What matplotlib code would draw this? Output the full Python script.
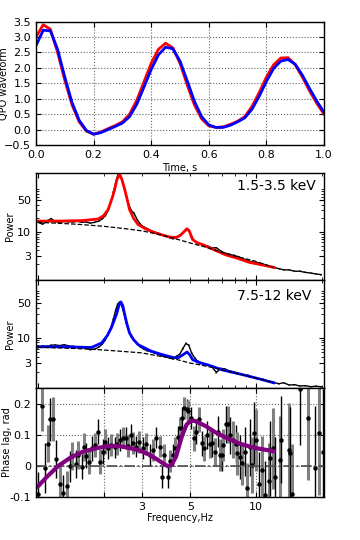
import matplotlib
matplotlib.use("Agg")
import matplotlib.pyplot as plt
import numpy as np
from matplotlib.ticker import FixedLocator, NullFormatter, FixedFormatter, LogLocator

# ---------------- data ----------------
# Panel 1: QPO waveform
t = [0.0, 0.025, 0.05, 0.075, 0.1, 0.125, 0.15, 0.175, 0.2, 0.225, 0.25, 0.275, 0.3,
     0.325, 0.35, 0.375, 0.4, 0.425, 0.45, 0.475, 0.5, 0.525, 0.55, 0.575, 0.6, 0.625,
     0.65, 0.675, 0.7, 0.725, 0.75, 0.775, 0.8, 0.825, 0.85, 0.875, 0.9, 0.925, 0.95,
     0.975, 1.0]
wave_soft = [3.0, 3.4, 3.25, 2.5, 1.6, 0.8, 0.25, -0.05, -0.15, -0.08, 0.03, 0.13, 0.25,
             0.5, 0.95, 1.55, 2.15, 2.6, 2.8, 2.65, 2.15, 1.45, 0.8, 0.35, 0.12, 0.07,
             0.09, 0.17, 0.27, 0.42, 0.75, 1.2, 1.7, 2.1, 2.32, 2.33, 2.1, 1.7, 1.25,
             0.85, 0.5]
wave_hard = [2.72, 3.22, 3.2, 2.6, 1.7, 0.88, 0.3, -0.03, -0.15, -0.1, 0.0, 0.1, 0.21,
             0.42, 0.82, 1.38, 1.95, 2.42, 2.67, 2.62, 2.22, 1.58, 0.92, 0.42, 0.15, 0.07,
             0.07, 0.14, 0.25, 0.38, 0.66, 1.08, 1.56, 1.98, 2.22, 2.27, 2.12, 1.76, 1.33,
             0.92, 0.56]

# Power spectra (frequency grid of the data)
freq = [1.00, 1.05, 1.10, 1.15, 1.20, 1.26, 1.32, 1.38, 1.45, 1.52, 1.59, 1.66, 1.74, 1.82,
        1.90, 1.97, 2.04, 2.10, 2.16, 2.22, 2.27, 2.32, 2.37, 2.42, 2.48, 2.54, 2.61, 2.68,
        2.76, 2.85, 2.95, 3.06, 3.18, 3.30, 3.43, 3.57, 3.72, 3.87, 4.02, 4.17, 4.32, 4.47,
        4.62, 4.77, 4.92, 5.07, 5.23, 5.40, 5.60, 5.82, 6.05, 6.30, 6.58, 6.88, 7.20, 7.55,
        7.92, 8.32, 8.75, 9.20, 9.70, 10.2, 10.8, 11.4, 12.0, 12.7, 13.4, 14.2, 15.0, 15.9,
        16.8, 17.8, 18.8, 19.9]
pow_soft = [16.5, 15.0, 17.5, 20.0, 17.0, 16.5, 17.2, 17.0, 16.8, 17.3, 16.5, 16.8, 15.8, 16.5,
            17.5, 19.5, 23.0, 30.0, 45.0, 75.0, 120.0, 175.0, 200.0, 150.0, 95.0, 62.0, 40.0, 30.0,
            26.0, 19.0, 15.0, 13.0, 12.0, 10.8, 10.0, 9.5, 8.7, 8.2, 7.6, 7.2, 7.8, 8.5,
            9.5, 11.5, 11.0, 8.0, 6.3, 5.9, 5.5, 5.0, 4.9, 4.5, 4.6, 3.9, 3.5, 3.3,
            3.1, 2.9, 2.6, 2.4, 2.2, 2.15, 2.0, 1.85, 1.7, 1.6, 1.5, 1.5, 1.4, 1.4,
            1.32, 1.28, 1.22, 1.18]
pow_hard = [6.3, 6.8, 6.6, 7.0, 7.1, 6.9, 7.2, 6.8, 6.6, 6.5, 6.3, 6.2, 5.7, 5.8,
            6.4, 7.3, 9.0, 12.0, 16.0, 24.0, 36.0, 48.0, 54.0, 45.0, 32.0, 20.0, 13.5, 10.5,
            9.0, 7.8, 6.5, 5.8, 5.4, 5.2, 4.8, 4.6, 4.2, 4.1, 3.8, 3.7, 4.2, 4.6,
            6.0, 7.6, 7.0, 4.8, 3.9, 3.3, 3.1, 2.9, 2.75, 2.5, 1.95, 2.35, 2.3, 2.1,
            2.0, 1.85, 1.75, 1.7, 1.55, 1.45, 1.4, 1.3, 1.22, 1.15, 1.2, 1.08, 1.1, 1.03,
            1.05, 1.0, 1.02, 1.0]
pow_err_frac = 0.05

# Model curves
model_soft_f = [1.0, 1.3, 1.6, 1.89, 2.0, 2.1, 2.2, 2.25, 2.3, 2.37, 2.43, 2.5, 2.56, 2.63,
                2.75, 2.88, 3.1, 3.31, 3.55, 3.8, 4.05, 4.3, 4.5, 4.7, 4.83, 4.95, 5.12,
                5.4, 5.69, 6.3, 7.25, 8.2, 9.28, 10.5, 12.07]
model_soft_p = [17.5, 17.6, 18.0, 19.5, 23.0, 31.5, 60.0, 87.0, 140.0, 186.0, 140.0, 87.0, 55.0,
                31.5, 20.0, 14.7, 12.0, 10.5, 9.3, 8.45, 7.8, 7.7, 8.5, 10.5, 11.9, 10.5, 6.9,
                5.8, 5.36, 4.3, 3.2, 2.7, 2.2, 1.95, 1.7]
cont_soft_f = [1.0, 1.5, 2.0, 2.5, 3.0, 3.5, 4.0, 4.5, 5.0, 6.0, 7.0, 8.0, 10.0, 12.0]
cont_soft_p = [16.5, 15.0, 13.5, 12.0, 10.7, 9.2, 7.8, 6.7, 5.8, 4.6, 3.6, 3.0, 2.3, 1.7]

model_hard_f = [1.0, 1.33, 1.76, 1.96, 2.08, 2.17, 2.29, 2.35, 2.4, 2.45, 2.5, 2.56, 2.63,
                2.75, 2.88, 3.1, 3.31, 3.6, 3.94, 4.2, 4.4, 4.6, 4.83, 4.98, 5.12, 5.5,
                6.1, 7.0, 8.66, 10.3, 12.07]
model_hard_p = [6.5, 6.5, 6.3, 7.8, 11.0, 15.8, 29.5, 45.0, 53.6, 45.0, 29.5, 19.0, 12.5,
                9.0, 7.2, 6.1, 5.3, 4.7, 4.2, 3.9, 3.9, 4.4, 5.1, 4.4, 3.55, 3.1,
                2.73, 2.2, 1.76, 1.45, 1.2]
cont_hard_f = [1.0, 1.5, 1.89, 2.5, 2.98, 3.5, 4.0, 4.37, 4.95, 5.5, 6.5, 8.0, 10.0, 12.0]
cont_hard_p = [6.4, 6.0, 5.7, 5.2, 4.9, 4.3, 3.9, 3.55, 3.05, 2.8, 2.4, 1.9, 1.5, 1.2]

# Phase lag
lag_f = [1.0, 1.04, 1.08, 1.11, 1.14, 1.17, 1.21, 1.26, 1.30, 1.36, 1.40, 1.44, 1.49, 1.53,
         1.59, 1.63, 1.67, 1.71, 1.77, 1.82, 1.88, 1.92, 1.98, 2.04, 2.10, 2.17, 2.25, 2.31,
         2.37, 2.45, 2.53, 2.60, 2.66, 2.73, 2.83, 2.92, 3.03, 3.14, 3.25, 3.36, 3.48, 3.61,
         3.70, 3.80, 3.94, 4.05, 4.15, 4.27, 4.37, 4.49, 4.58, 4.69, 4.81, 4.90, 5.03, 5.20,
         5.33, 5.48, 5.63, 5.79, 5.94, 6.14, 6.31, 6.49, 6.66, 6.83, 7.0, 7.09, 7.25, 7.42,
         7.63, 7.86, 8.06, 8.21, 8.41, 8.67, 8.87, 9.12, 9.38, 9.6, 9.76, 10.0, 10.28, 10.66,
         10.95, 11.45, 11.65, 11.96, 12.2, 12.86, 13.0, 14.1, 14.3, 14.6, 15.9, 17.4, 18.7,
         19.4, 20.2]
lag_v = [-0.09, 0.192, -0.008, 0.071, 0.149, 0.151, 0.022, -0.057, -0.088, -0.065, -0.001,
         0.032, 0.006, 0.035, -0.003, 0.062, 0.032, 0.013, 0.057, 0.067, 0.11, 0.013, 0.046,
         0.078, 0.057, 0.067, 0.059, 0.07, 0.084, 0.091, 0.089, 0.065, 0.1, 0.073, 0.062,
         0.076, 0.057, 0.07, 0.035, 0.051, 0.091, 0.062, -0.036, 0.035, -0.036, 0.015, 0.035,
         0.057, 0.094, 0.122, 0.154, 0.187, 0.181, 0.176, 0.154, 0.089, 0.11, 0.149, 0.073,
         0.057, 0.1, 0.07, 0.073, 0.046, 0.11, 0.035, 0.035, 0.067, 0.133, 0.133, 0.098,
         0.084, 0.07, 0.04, 0.029, 0.008, 0.046, -0.072, 0.059, 0.002, 0.105, 0.084, -0.057,
         -0.014, -0.095, -0.047, 0.024, 0.057, -0.036, 0.019, 0.084, 0.051, 0.04, -0.09,
         0.247, 0.154, -0.008, 0.105, 0.046]
lag_e = [0.07, 0.08, 0.08, 0.06, 0.07, 0.07, 0.06, 0.06, 0.06, 0.05, 0.05, 0.045, 0.045, 0.045,
         0.04, 0.045, 0.04, 0.04, 0.04, 0.04, 0.04, 0.04, 0.04, 0.04, 0.035, 0.035, 0.035, 0.035,
         0.035, 0.035, 0.035, 0.035, 0.035, 0.035, 0.035, 0.035, 0.035, 0.035, 0.035, 0.035,
         0.035, 0.035, 0.035, 0.035, 0.035, 0.035, 0.035, 0.035, 0.035, 0.035, 0.035, 0.035,
         0.035, 0.035, 0.035, 0.04, 0.04, 0.04, 0.04, 0.04, 0.045, 0.045, 0.045, 0.045, 0.05,
         0.05, 0.05, 0.05, 0.06, 0.06, 0.06, 0.06, 0.06, 0.07, 0.07, 0.07, 0.08, 0.08, 0.09,
         0.09, 0.1, 0.1, 0.1, 0.11, 0.11, 0.12, 0.12, 0.13, 0.13, 0.14, 0.14, 0.15, 0.15,
         0.16, 0.18, 0.2, 0.2, 0.2, 0.2]
lag_model_f = [1.0, 1.1, 1.24, 1.4, 1.6, 1.89, 2.1, 2.33, 2.6, 2.9, 3.2, 3.5, 3.75, 3.94,
               4.1, 4.3, 4.45, 4.6, 4.8, 5.0, 5.2, 5.5, 5.9, 6.5, 7.25, 8.5, 10.0, 12.07]
lag_model_v = [-0.066, -0.035, 0.0, 0.025, 0.045, 0.058, 0.063, 0.064, 0.058, 0.05, 0.038,
               0.022, 0.008, -0.001, 0.003, 0.03, 0.067, 0.1, 0.132, 0.144, 0.145, 0.138,
               0.127, 0.108, 0.091, 0.07, 0.057, 0.047]

# ---------------- figure ----------------
plt.rcParams['font.family'] = 'DejaVu Sans'
fig = plt.figure(figsize=(3.6, 5.4), dpi=100)

def style(ax):
    ax.tick_params(which='both', direction='in', top=True, right=True, labelsize=8)
    for s in ax.spines.values():
        s.set_linewidth(1.0)

# Panel 1
ax1 = fig.add_axes([0.1, 0.7315, 0.8, 0.2285])
ax1.plot(t, wave_soft, color='#ff0000', lw=2)
ax1.plot(t, wave_hard, color='#0000ff', lw=2)
ax1.set_xlim(0, 1)
ax1.set_ylim(-0.5, 3.5)
ax1.set_xticks([0, 0.2, 0.4, 0.6, 0.8, 1.0])
ax1.set_yticks([-0.5, 0, 0.5, 1.0, 1.5, 2.0, 2.5, 3.0, 3.5])
ax1.grid(True, linestyle=':', color='0.4', lw=0.8)
style(ax1)
ax1.set_xlabel('Time, s', fontsize=7, labelpad=2)
ax1.set_ylabel('QPO waveform', fontsize=7)
ax1.yaxis.set_label_coords(-0.094, 0.5)

fmin, fmax = 0.98, 20.5

def power_panel(rect, p, mf, mp, cf, cp, color, ylim, label, label_y):
    ax = fig.add_axes(rect)
    ax.set_xscale('log'); ax.set_yscale('log')
    perr = [v * pow_err_frac for v in p]
    ax.errorbar(freq, p, yerr=perr, fmt='none', ecolor='0.55', elinewidth=1.2)
    ax.plot(freq, p, color='black', lw=1)
    ax.plot(mf, mp, color=color, lw=2)
    ax.plot(cf, cp, color='black', lw=0.9, ls='--')
    ax.set_xlim(fmin, fmax)
    ax.set_ylim(*ylim)
    ax.yaxis.set_major_locator(FixedLocator([3, 10, 50]))
    ax.yaxis.set_major_formatter(FixedFormatter(['3', '10', '50']))
    ax.yaxis.set_minor_locator(LogLocator(base=10, subs=np.arange(2, 10)))
    ax.yaxis.set_minor_formatter(NullFormatter())
    ax.xaxis.set_major_formatter(NullFormatter())
    ax.xaxis.set_minor_formatter(NullFormatter())
    style(ax)
    ax.set_ylabel('Power', fontsize=7)
    ax.yaxis.set_label_coords(-0.073, 0.5)
    ax.text(0.698, label_y, label, transform=ax.transAxes, fontsize=10, ha='left', va='center')
    return ax

ax2 = power_panel([0.1, 0.4815, 0.8, 0.1985], pow_soft, model_soft_f, model_soft_p,
                  cont_soft_f, cont_soft_p, '#ff0000', (0.9, 200), '1.5-3.5 keV', 0.876)
ax3 = power_panel([0.1, 0.2815, 0.8, 0.2], pow_hard, model_hard_f, model_hard_p,
                  cont_hard_f, cont_hard_p, '#0000ff', (0.94, 150), '7.5-12 keV', 0.852)

# Panel 4
ax4 = fig.add_axes([0.1, 0.0796, 0.8, 0.2019])
ax4.set_xscale('log')
for i, (f, v, e) in enumerate(zip(lag_f, lag_v, lag_e)):
    if i % 2 == 0:
        ax4.errorbar([f], [v], yerr=[e], fmt='none', ecolor='black', elinewidth=1.0)
    else:
        ax4.errorbar([f], [v], yerr=[e], fmt='none', ecolor='0.5', elinewidth=2.2)
ax4.plot(lag_f, lag_v, 'o', color='black', ms=2.2, ls='none')
ax4.axhline(0, color='0.3', lw=1.2, ls='-.')
ax4.plot(lag_model_f, lag_model_v, color='#800080', lw=3)
ax4.set_xlim(fmin, fmax)
ax4.set_ylim(-0.1, 0.25)
ax4.xaxis.set_major_locator(FixedLocator([2, 3, 5, 10]))
ax4.xaxis.set_major_formatter(FixedFormatter(['', '3', '5', '10']))
ax4.xaxis.set_minor_locator(FixedLocator([]))
ax4.set_yticks([-0.1, 0, 0.1, 0.2])
ax4.set_yticklabels(['-0.1', '0', '0.1', '0.2'])
ax4.grid(True, linestyle=':', color='0.4', lw=0.8)
style(ax4)
ax4.set_xlabel('Frequency,Hz', fontsize=7, labelpad=1)
ax4.set_ylabel('Phase lag, rad', fontsize=7)
ax4.yaxis.set_label_coords(-0.082, 0.5)

fig.savefig('out.png', dpi=100)
